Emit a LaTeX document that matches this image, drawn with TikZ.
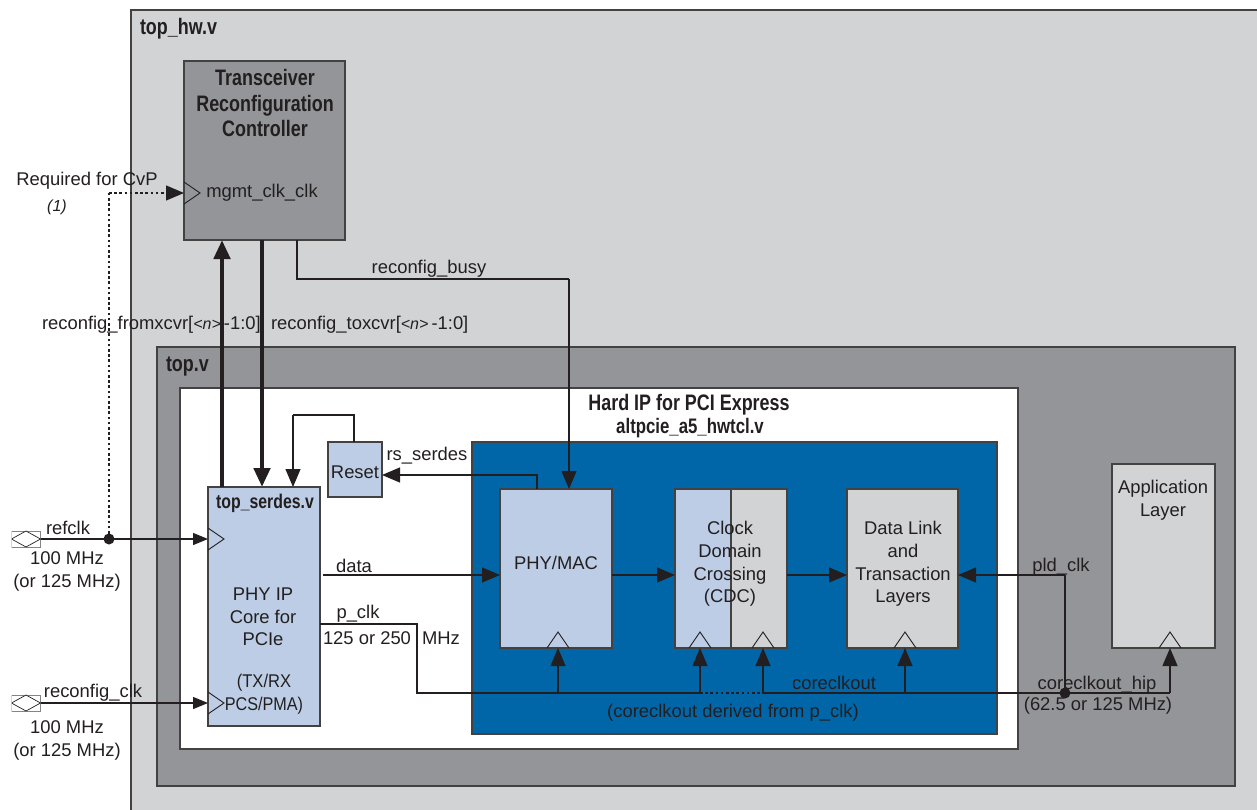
\documentclass[tikz,border=0pt]{standalone}
\usepackage{fontspec}
\setmainfont{Liberation Sans}
\newfontfamily\narrowbold{Liberation Sans}[FakeStretch=0.8]
\usetikzlibrary{arrows.meta,calc,shapes.geometric}
\definecolor{ink}{HTML}{231F20}
\definecolor{lightgray}{HTML}{D1D3D4}
\definecolor{midgray}{HTML}{939598}
\definecolor{paleblue}{HTML}{BCCDE5}
\definecolor{deepblue}{HTML}{0066A8}
\tikzset{
  every node/.style={inner sep=0pt,outer sep=0pt,text=ink,font=\fontsize{18.4}{22.6}\selectfont},
  box/.style={draw=ink!85,line width=1.1pt,rectangle,anchor=north west},
  lab/.style={align=center,yshift=-2pt},
  lableft/.style={anchor=west,yshift=-2pt},
  title/.style={align=center,yshift=-0.5pt,font=\fontsize{22.4}{25.2}\narrowbold\bfseries},
  wire/.style={draw=ink,line width=1.2pt},
  arr/.style={wire,-{Triangle[length=18pt,width=15pt]}},
  arrsmall/.style={wire,-{Triangle[length=15pt,width=12pt]}},
  thick wire/.style={draw=ink,line width=4.6pt},
  dotwire/.style={draw=ink,line width=1.1pt,dash pattern=on 2.6pt off 2.6pt},
  ck/.style={draw=ink,line width=0.9pt},
  junction/.style={circle,fill=ink,minimum size=11pt},
  portbox/.style={draw=ink!55,line width=1pt,minimum width=29pt,minimum height=16pt,fill=white},
  portgem/.style={diamond,draw=ink,fill=white,line width=0.7pt,minimum width=29pt,minimum height=16pt},
}
\begin{document}
\begin{tikzpicture}[x=1pt,y=-1pt]
\useasboundingbox (0,0) rectangle (1257,810);
\clip (0,0) rectangle (1257,810);
\fill[white] (0,0) rectangle (1257,810);
% containers
\node[box,fill=lightgray,minimum width=1140pt,minimum height=820pt] (tophw) at (131,10) {};
\node[box,fill=midgray,minimum width=1078pt,minimum height=439pt] (topv) at (157,347) {};
\node[box,fill=white,minimum width=838pt,minimum height=361pt] (hipwhite) at (180,388) {};
\node[box,fill=deepblue,minimum width=525pt,minimum height=292pt] (hipblue) at (472,442) {};
% blocks
\node[box,fill=midgray,minimum width=161pt,minimum height=179pt] (trc) at (184,61) {};
\node[box,fill=paleblue,minimum width=112pt,minimum height=239pt] (serdes) at (208,487) {};
\node[box,fill=paleblue,minimum width=54pt,minimum height=55pt] (reset) at (328,442) {};
\node[box,fill=paleblue,minimum width=112pt,minimum height=159pt] (phy) at (500,489) {};
\node[box,fill=paleblue,minimum width=56pt,minimum height=159pt] (cdcl) at (675,489) {};
\node[box,fill=lightgray,minimum width=56pt,minimum height=159pt] (cdcr) at (731,489) {};
\node[box,fill=lightgray,minimum width=111pt,minimum height=159pt] (dll) at (847,489) {};
\node[box,fill=lightgray,minimum width=103pt,minimum height=184pt] (app) at (1112,464) {};
% ports
\node[portbox] (refport) at (26,539) {};
\node[portgem] (refgem) at (26,539) {};
\node[portbox] (cfgport) at (26,703) {};
\node[portgem] (cfggem) at (26,703) {};
\fill[white] (10,528) rectangle (11.5,550) (10,692) rectangle (11.5,714);
% labels under the thick wires
\node[lableft] (fromlab) at (42,323) {reconfig\_fromxcvr[{\fontsize{16}{16}\selectfont\itshape <n>}\,-1:0]};
\node[lableft] (tolab) at (271,323) {reconfig\_toxcvr[{\fontsize{16}{16}\selectfont\itshape <n>}\,-1:0]};
% junctions and bends
\coordinate (cvpbend) at (109,193);
\node[junction] (refdot) at (109,539) {};
\coordinate (busya) at (297,279);
\coordinate (busyb) at (569,279);
\coordinate (rsa) at (537,475);
\coordinate (reseta) at (354,415);
\coordinate (resetb) at (293,415);
\coordinate (pclka) at (417,624);
\coordinate (pclkb) at (417,693);
\coordinate (ck1) at (558,693);
\coordinate (ck2) at (700,693);
\coordinate (ck3) at (763,693);
\coordinate (ck4) at (905,693);
\coordinate (ck5) at (1170,693);
\node[junction] (hipdot) at (1065,693) {};
\coordinate (pldbend) at (1065,575);
\coordinate (midrow) at (0,575);
% connectors
\draw[dotwire] (refdot) -- (cvpbend);
\draw[dotwire,-{Triangle[length=18pt,width=15pt]}] (cvpbend) -- (cvpbend -| trc.west);
\draw[arrsmall] (refport.east) -- (serdes.west |- refport);
\draw[arrsmall] (cfgport.east) -- (serdes.west |- cfgport);
\draw[thick wire,-{Triangle[length=19pt,width=16pt]}] ($(serdes.north west)+(14,0)$) -- ($(trc.south west)+(38,0)$);
\draw[thick wire,-{Triangle[length=19pt,width=16pt]}] ($(trc.south west)+(78,0)$) -- ($(serdes.north west)+(54,0)$);
\draw[wire] ($(trc.south west)+(113,0)$) |- (busya) -- (busyb);
\draw[arr] (busyb) -- (busyb |- phy.north);
\draw[arr] (phy.north -| rsa) -- (rsa) -- (rsa -| reset.east);
\draw[wire] (reset.north -| reseta) -- (reseta) -- (resetb);
\draw[arr] (resetb) -- (resetb |- serdes.north);
\draw[arr] (serdes.east |- midrow) ++(3,0) -- (phy.west |- midrow);
\draw[arr] (phy.east |- midrow) -- (cdcl.west |- midrow);
\draw[arr] (cdcr.east |- midrow) -- (dll.west |- midrow);
\draw[wire] (serdes.east |- pclka) -- (pclka) -- (pclkb) -- (ck2);
\draw[dotwire] (ck2) -- (ck3);
\draw[wire] (ck3) -- (ck5);
\draw[arr] (ck1) -- (phy.south -| ck1);
\draw[arr] (ck2) -- (cdcl.south -| ck2);
\draw[arr] (ck3) -- (cdcr.south -| ck3);
\draw[arr] (ck4) -- (dll.south -| ck4);
\draw[arr] (ck5) -- (app.south -| ck5);
\draw[wire] (hipdot) -- (pldbend);
\draw[arr] (pldbend) -- (dll.east |- pldbend);
% clock pins
\draw[ck] ($(trc.west |- cvpbend)+(0,-11)$) -- ++(16,11) -- ++(-16,11);
\draw[ck] ($(serdes.west |- refport)+(0,-11)$) -- ++(16,11) -- ++(-16,11);
\draw[ck] ($(serdes.west |- cfgport)+(0,-11)$) -- ++(16,11) -- ++(-16,11);
\draw[ck] ($(phy.south -| ck1)+(-11,0)$) -- ++(11,-16) -- ++(11,16);
\draw[ck] ($(cdcl.south -| ck2)+(-11,0)$) -- ++(11,-16) -- ++(11,16);
\draw[ck] ($(cdcr.south -| ck3)+(-11,0)$) -- ++(11,-16) -- ++(11,16);
\draw[ck] ($(dll.south -| ck4)+(-11,0)$) -- ++(11,-16) -- ++(11,16);
\draw[ck] ($(app.south -| ck5)+(-11,0)$) -- ++(11,-16) -- ++(11,16);
% titles
\node[title,anchor=west] (hwtitle) at (140,28.5) {top\_hw.v};
\node[title,anchor=west] (toptitle) at (166,366.5) {top.v};
\node[title] (trctitle) at (265,102.5) {Transceiver\\Reconfiguration\\Controller};
\node[title,yshift=-1pt] (hiptitle) at (689,403) {Hard IP for PCI Express};
\node[title,yshift=-1pt,font=\fontsize{21}{24}\narrowbold\bfseries] (hipfile) at (690,427) {altpcie\_a5\_hwtcl.v};
\node[title,yshift=-1pt,font=\fontsize{19.8}{22}\narrowbold\bfseries] (serdestitle) at (265,502) {top\_serdes.v};
% labels
\node[lab] (cvplab) at (87,179) {Required for CvP};
\node[lab,font=\fontsize{16}{20}\selectfont\itshape] (cvpnote) at (57,205) {(1)};
\node[lab] (mgmtlab) at (262,191) {mgmt\_clk\_clk};
\node[lab] (busylab) at (429,267) {reconfig\_busy};
\node[lab] (rslab) at (427,454) {rs\_serdes};
\node[lab] (resetlab) at (355,470) {Reset};
\node[lab] (reflab) at (68,526) {refclk};
\node[lab] (refmhz) at (67,569.5) {100 MHz\\(or 125 MHz)};
\node[lab] (cfglab) at (93,691) {reconfig\_clk};
\node[lab] (cfgmhz) at (67,738.5) {100 MHz\\(or 125 MHz)};
\node[lab] (phycore) at (263,615) {PHY IP\\Core for\\PCIe};
\node[lab] (phypcs) at (264,692) {\scalebox{0.9}[1]{(TX/RX}\\\scalebox{0.88}[1]{PCS/PMA)}};
\node[lab] (datalab) at (354,564) {data};
\node[lab] (pclklab) at (358,612) {p\_clk};
\node[lab] (pclkmhz) at (367,636) {125 or 250};
\node[lab] (pclkunit) at (441,636) {MHz};
\node[lab] (phylab) at (556,561) {PHY/MAC};
\node[lab] (cdclab) at (730,562) {Clock\\Domain\\Crossing\\(CDC)};
\node[lab] (dlllab) at (903,562) {Data Link\\and\\Transaction\\Layers};
\node[lab] (pldlab) at (1061,565) {pld\_clk};
\node[lab] (applab) at (1163,498) {Application\\Layer};
\node[lab] (corelab) at (834,681) {coreclkout};
\node[lab] (hiplab) at (1097,683) {coreclkout\_hip};
\node[lab] (hipmhz) at (1098,704) {(62.5 or 125 MHz)};
\node[lab] (derived) at (733,711) {(coreclkout derived from p\_clk)};
\end{tikzpicture}
\end{document}
